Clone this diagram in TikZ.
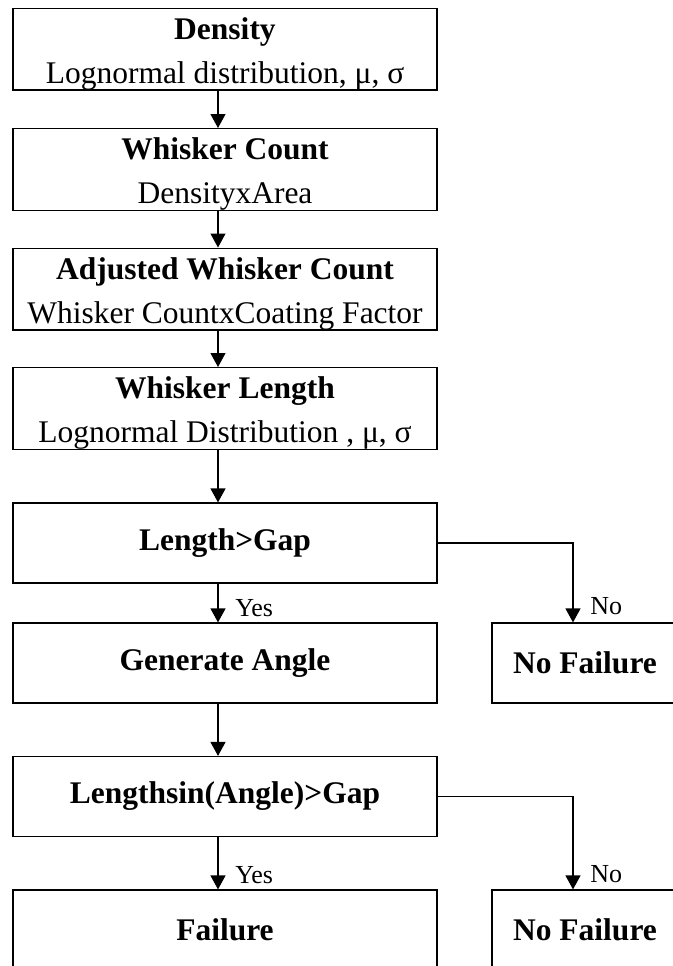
\documentclass[tikz,border=0pt]{standalone}
\usepackage{fontspec}
\setmainfont{Liberation Serif}
\usepackage{tikz}
\usetikzlibrary{arrows.meta}
\newcommand{\tstrut}{\rule{0pt}{15.5pt}}

\begin{document}
\begin{tikzpicture}[x=0.5pt,y=-0.5pt,line width=0.6pt,
  box/.style={draw, minimum width=212pt, minimum height=40pt, inner sep=0pt, align=center, font=\fontsize{15.75}{22}\selectfont},
  sbox/.style={box, minimum width=93pt},
  arr/.style={-{Triangle[length=7pt,width=7.5pt]}},
  lbl/.style={font=\fontsize{13}{14}\selectfont, anchor=west, xshift=5pt}]
%% frame
\clip (0,0) rectangle (673,966);
\fill[white] (0,0) rectangle (673,966);
%% main column
\node[box] (dens) at (225,49) {\tstrut\textbf{Density}\\Lognormal distribution, μ, σ};
\node[box] (wc) at (225,169.5) {\tstrut\textbf{Whisker Count}\\DensityxArea};
\node[box] (adj) at (225,289) {\tstrut\textbf{Adjusted Whisker Count}\\Whisker CountxCoating Factor};
\node[box] (wlen) at (225,408.5) {\tstrut\textbf{Whisker Length}\\Lognormal Distribution , μ, σ};
\node[box] (lgap) at (225,543) {\textbf{Length>Gap}};
\node[box] (gang) at (225,663) {\textbf{Generate Angle}};
\node[box] (lsin) at (225,796.5) {\textbf{Lengthsin(Angle)>Gap}};
\node[box] (fail) at (225,930) {\textbf{Failure}};
%% right column
\node[sbox] (nf1) at (585,663) {\textbf{No Failure}};
\node[sbox] (nf2) at (585,930) {\textbf{No Failure}};
%% arrows
\draw[arr] ([xshift=-3.5pt]dens.south) -- ([xshift=-3.5pt]wc.north);
\draw[arr] ([xshift=-3.5pt]wc.south) -- ([xshift=-3.5pt]adj.north);
\draw[arr] ([xshift=-3.5pt]adj.south) -- ([xshift=-3.5pt]wlen.north);
\draw[arr] ([xshift=-3.5pt]wlen.south) -- ([xshift=-3.5pt]lgap.north);
\draw[arr] ([xshift=-3.5pt]lgap.south) -- node[lbl, pos=0.62]{Yes} ([xshift=-3.5pt]gang.north);
\draw[arr] (lgap.east) -| node[lbl, pos=0.9]{No} ([xshift=-6pt]nf1.north);
\draw[arr] ([xshift=-3.5pt]gang.south) -- ([xshift=-3.5pt]lsin.north);
\draw[arr] ([xshift=-3.5pt]lsin.south) -- node[lbl, pos=0.72]{Yes} ([xshift=-3.5pt]fail.north);
\draw[arr] (lsin.east) -| node[lbl, pos=0.92]{No} ([xshift=-6pt]nf2.north);
\end{tikzpicture}
\end{document}
